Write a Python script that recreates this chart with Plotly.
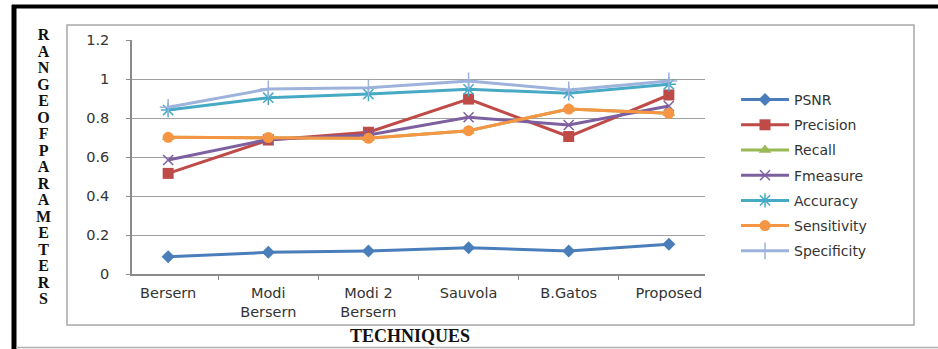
import plotly.graph_objects as go

categories = ["Bersern", "Modi<br>Bersern", "Modi 2<br>Bersern", "Sauvola", "B.Gatos", "Proposed"]
psnr = [0.089, 0.111, 0.118, 0.135, 0.118, 0.152]
precision = [0.516, 0.687, 0.727, 0.897, 0.705, 0.918]
recall = [0.701, 0.700, 0.696, 0.735, 0.846, 0.824]
fmeasure = [0.585, 0.690, 0.713, 0.804, 0.764, 0.862]
accuracy = [0.841, 0.904, 0.923, 0.947, 0.927, 0.973]
sensitivity = [0.701, 0.700, 0.696, 0.735, 0.846, 0.824]
specificity = [0.855, 0.949, 0.955, 0.990, 0.944, 0.990]
y_ticks = [0, 0.2, 0.4, 0.6, 0.8, 1, 1.2]
y_tick_text = ["0", "0.2", "0.4", "0.6", "0.8", "1", "1.2"]
y_title = "RANGEOFPARAMETERS"
x_title = "TECHNIQUES"

series = [
    ("PSNR", psnr, "#4A7EBB", dict(symbol="diamond", size=10)),
    ("Precision", precision, "#BE4B48", dict(symbol="square", size=11)),
    ("Recall", recall, "#98B954", dict(symbol="triangle-up", size=11)),
    ("Fmeasure", fmeasure, "#7D60A0", dict(symbol="x-thin-open", size=10, line=dict(width=1.5, color="#7D60A0"))),
    ("Accuracy", accuracy, "#46AAC5", dict(symbol="asterisk-open", size=12, line=dict(width=1.5, color="#46AAC5"))),
    ("Sensitivity", sensitivity, "#F69544", dict(symbol="circle", size=11)),
    ("Specificity", specificity, "#9DB3DC", dict(symbol="cross-thin-open", size=12, line=dict(width=1.5, color="#9DB3DC"))),
]

fig = go.Figure()
for name, vals, color, mk in series:
    mk = dict(mk)
    mk.setdefault("color", color)
    fig.add_trace(go.Scatter(
        x=categories, y=vals, name=name, mode="lines+markers",
        line=dict(color=color, width=3), marker=mk, legendgroup=name,
    ))

W, H = 938, 349
L, R, T, B = 132, 233, 40, 75
pw, ph = W - L - R, H - T - B

def px(x):
    return (x - L) / pw

def py(y):
    return (H - B - y) / ph

fig.update_layout(
    width=W, height=H,
    margin=dict(l=L, r=R, t=T, b=B),
    paper_bgcolor="white", plot_bgcolor="white",
    font=dict(family="DejaVu Sans", size=14, color="#333333"),
    showlegend=True,
    legend=dict(
        x=px(736), y=py(84), xanchor="left", yanchor="top",
        font=dict(family="DejaVu Sans", size=14, color="#333333"),
        itemwidth=48, tracegroupgap=4, bgcolor="rgba(0,0,0,0)",
    ),
    xaxis=dict(
        type="category", tickson="boundaries", ticks="outside", ticklen=4,
        tickcolor="#8a8a8a", showline=True, linecolor="#8a8a8a", linewidth=1.5,
        showgrid=False, ticklabelstandoff=5,
        tickfont=dict(family="DejaVu Sans", size=14.5, color="#333333"),
    ),
    yaxis=dict(
        range=[0, 1.2], tickvals=y_ticks, ticktext=y_tick_text,
        ticks="outside", ticklen=4, tickcolor="#8a8a8a",
        showline=True, linecolor="#8a8a8a", linewidth=1.5,
        showgrid=True, gridcolor="#a0a0a0", gridwidth=1.2, zeroline=False,
        ticklabelstandoff=14,
        tickfont=dict(family="DejaVu Sans", size=14.5, color="#333333"),
    ),
)

shapes = [
    dict(type="rect", xref="paper", yref="paper", x0=px(67), x1=px(914), y0=py(325), y1=py(25),
         line=dict(color="#a8a8a8", width=1.5), fillcolor="rgba(0,0,0,0)", layer="below"),
    dict(type="line", xref="paper", yref="paper", x0=px(14), x1=px(14), y0=py(5), y1=py(349),
         line=dict(color="black", width=5)),
    dict(type="line", xref="paper", yref="paper", x0=px(12), x1=px(938), y0=py(6.5), y1=py(6.5),
         line=dict(color="black", width=4)),
    dict(type="line", xref="paper", yref="paper", x0=px(16), x1=px(938), y0=py(347.5), y1=py(347.5),
         line=dict(color="#b0b0b0", width=1.5)),
]
fig.update_layout(shapes=shapes)

ytitle = "<br>".join('<span style="font-size:16px">%s</span>' % c for c in y_title)
fig.add_annotation(
    text=ytitle, xref="paper", yref="paper", x=px(43), y=py(166),
    xanchor="center", yanchor="middle", showarrow=False, align="center",
    font=dict(family="Liberation Serif", size=12.7, color="#111111", weight="bold"),
)
fig.add_annotation(
    text=x_title, xref="paper", yref="paper", x=px(410), y=py(336),
    xanchor="center", yanchor="middle", showarrow=False,
    font=dict(family="Liberation Serif", size=18, color="#111111", weight="bold"),
)

fig.write_html("out.html")
